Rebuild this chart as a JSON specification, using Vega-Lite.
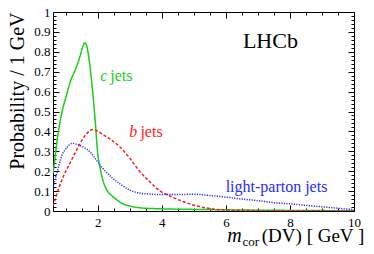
{
  "$schema": "https://vega.github.io/schema/vega-lite/v6.json",
  "width": 301,
  "height": 199,
  "autosize": {"type": "none"},
  "padding": {"left": 53, "top": 12, "right": 20, "bottom": 43},
  "background": "white",
  "config": {
    "font": "Liberation Serif",
    "view": {"stroke": "black", "strokeWidth": 1},
    "axis": {"grid": false, "domain": false, "title": null, "labelFont": "Liberation Serif", "labelFontSize": 13, "labelColor": "black", "tickColor": "black", "tickWidth": 1, "labelFlush": false, "labelOverlap": false},
    "text": {"font": "Liberation Serif"}
  },
  "resolve": {"axis": {"x": "independent", "y": "independent"}},
  "layer": [
    {
      "data": {"values": [
        {"jet": "c", "m": 0.6, "p": 0.19},
        {"jet": "c", "m": 0.65, "p": 0.25},
        {"jet": "c", "m": 0.72, "p": 0.345},
        {"jet": "c", "m": 0.8, "p": 0.43},
        {"jet": "c", "m": 0.9, "p": 0.51},
        {"jet": "c", "m": 1.0, "p": 0.57},
        {"jet": "c", "m": 1.14, "p": 0.65},
        {"jet": "c", "m": 1.3, "p": 0.71},
        {"jet": "c", "m": 1.43, "p": 0.77},
        {"jet": "c", "m": 1.52, "p": 0.82},
        {"jet": "c", "m": 1.59, "p": 0.845},
        {"jet": "c", "m": 1.65, "p": 0.83},
        {"jet": "c", "m": 1.72, "p": 0.77},
        {"jet": "c", "m": 1.78, "p": 0.69},
        {"jet": "c", "m": 1.85, "p": 0.58},
        {"jet": "c", "m": 1.92, "p": 0.45},
        {"jet": "c", "m": 1.99, "p": 0.3},
        {"jet": "c", "m": 2.08, "p": 0.21},
        {"jet": "c", "m": 2.18, "p": 0.143},
        {"jet": "c", "m": 2.3, "p": 0.1},
        {"jet": "c", "m": 2.45, "p": 0.075},
        {"jet": "c", "m": 2.6, "p": 0.055},
        {"jet": "c", "m": 2.8, "p": 0.035},
        {"jet": "c", "m": 3.0, "p": 0.025},
        {"jet": "c", "m": 3.4, "p": 0.015},
        {"jet": "c", "m": 4.0, "p": 0.011},
        {"jet": "c", "m": 5.0, "p": 0.008},
        {"jet": "c", "m": 6.0, "p": 0.006},
        {"jet": "c", "m": 7.0, "p": 0.004},
        {"jet": "c", "m": 8.0, "p": 0.003},
        {"jet": "c", "m": 9.0, "p": 0.002},
        {"jet": "c", "m": 10.0, "p": 0.001},
        {"jet": "b", "m": 0.6, "p": 0.025},
        {"jet": "b", "m": 0.67, "p": 0.06},
        {"jet": "b", "m": 0.77, "p": 0.11},
        {"jet": "b", "m": 0.93, "p": 0.176},
        {"jet": "b", "m": 1.14, "p": 0.244},
        {"jet": "b", "m": 1.35, "p": 0.31},
        {"jet": "b", "m": 1.56, "p": 0.37},
        {"jet": "b", "m": 1.72, "p": 0.4},
        {"jet": "b", "m": 1.85, "p": 0.41},
        {"jet": "b", "m": 2.0, "p": 0.4},
        {"jet": "b", "m": 2.2, "p": 0.38},
        {"jet": "b", "m": 2.4, "p": 0.36},
        {"jet": "b", "m": 2.7, "p": 0.32},
        {"jet": "b", "m": 3.0, "p": 0.265},
        {"jet": "b", "m": 3.3, "p": 0.2},
        {"jet": "b", "m": 3.6, "p": 0.15},
        {"jet": "b", "m": 3.95, "p": 0.1},
        {"jet": "b", "m": 4.3, "p": 0.072},
        {"jet": "b", "m": 4.7, "p": 0.045},
        {"jet": "b", "m": 5.1, "p": 0.025},
        {"jet": "b", "m": 5.5, "p": 0.012},
        {"jet": "b", "m": 6.0, "p": 0.005},
        {"jet": "b", "m": 7.0, "p": 0.002},
        {"jet": "b", "m": 8.0, "p": 0.001},
        {"jet": "b", "m": 10.0, "p": 0.0005},
        {"jet": "light", "m": 0.6, "p": 0.12},
        {"jet": "light", "m": 0.72, "p": 0.19},
        {"jet": "light", "m": 0.88, "p": 0.28},
        {"jet": "light", "m": 1.04, "p": 0.32},
        {"jet": "light", "m": 1.2, "p": 0.34},
        {"jet": "light", "m": 1.35, "p": 0.335},
        {"jet": "light", "m": 1.56, "p": 0.32},
        {"jet": "light", "m": 1.77, "p": 0.295},
        {"jet": "light", "m": 1.98, "p": 0.25},
        {"jet": "light", "m": 2.18, "p": 0.21},
        {"jet": "light", "m": 2.44, "p": 0.168},
        {"jet": "light", "m": 2.7, "p": 0.135},
        {"jet": "light", "m": 3.0, "p": 0.105},
        {"jet": "light", "m": 3.3, "p": 0.09},
        {"jet": "light", "m": 3.6, "p": 0.085},
        {"jet": "light", "m": 4.0, "p": 0.083},
        {"jet": "light", "m": 4.5, "p": 0.083},
        {"jet": "light", "m": 5.0, "p": 0.084},
        {"jet": "light", "m": 5.5, "p": 0.078},
        {"jet": "light", "m": 6.0, "p": 0.07},
        {"jet": "light", "m": 6.5, "p": 0.06},
        {"jet": "light", "m": 7.0, "p": 0.052},
        {"jet": "light", "m": 7.5, "p": 0.042},
        {"jet": "light", "m": 8.0, "p": 0.036},
        {"jet": "light", "m": 8.5, "p": 0.028},
        {"jet": "light", "m": 9.0, "p": 0.021},
        {"jet": "light", "m": 9.5, "p": 0.014},
        {"jet": "light", "m": 10.0, "p": 0.006}
      ]},
      "mark": {"type": "line", "strokeWidth": 1.5, "interpolate": "monotone", "clip": true},
      "encoding": {
        "x": {"field": "m", "type": "quantitative", "scale": {"domain": [0.6, 10], "nice": false, "zero": false},
          "axis": {"orient": "bottom", "values": [2, 4, 6, 8, 10], "format": "~r", "ticks": false, "labelPadding": 5, "labelFont": "Liberation Serif"}},
        "y": {"field": "p", "type": "quantitative", "scale": {"domain": [0, 1], "nice": false, "zero": false},
          "axis": {"orient": "left", "values": [0, 0.1, 0.2, 0.3, 0.4, 0.5, 0.6, 0.7, 0.8, 0.9, 1], "format": "~r", "ticks": false, "labelPadding": 3, "labelFont": "Liberation Serif",
            "title": "Probability / 1 GeV", "titleFont": "Liberation Serif", "titleFontSize": 20, "titleFontWeight": "normal", "titleColor": "black", "titleAnchor": "end", "titlePadding": 6}},
        "color": {"field": "jet", "type": "nominal", "scale": {"domain": ["c", "b", "light"], "range": ["#1ccc1c", "#ff1a1a", "#2a2aff"]}, "legend": null},
        "strokeDash": {"field": "jet", "type": "nominal", "scale": {"domain": ["c", "b", "light"], "range": [[1, 0], [3, 2], [1.2, 1.3]]}, "legend": null},
        "detail": {"field": "jet"}
      }
    },
    {
      "data": {"values": [{"t": "LHCb"}]},
      "mark": {"type": "text", "fontSize": 22, "align": "center", "baseline": "alphabetic", "color": "black"},
      "encoding": {
        "text": {"field": "t"},
        "x": {"datum": 7.39, "axis": {"orient": "top", "values": [2, 4, 6, 8, 10], "labels": false, "tickSize": -6}},
        "y": {"datum": 0.82, "axis": {"orient": "right", "values": [0, 0.1, 0.2, 0.3, 0.4, 0.5, 0.6, 0.7, 0.8, 0.9, 1], "labels": false, "tickSize": -6}}
      }
    },
    {
      "data": {"values": [{"t": "c"}]},
      "mark": {"type": "text", "fontSize": 16, "align": "right", "baseline": "alphabetic", "fontStyle": "italic", "color": "#1ccc1c"},
      "encoding": {
        "text": {"field": "t"},
        "x": {"datum": 2.3, "axis": {"orient": "bottom", "values": [1, 1.5, 2.5, 3, 3.5, 4.5, 5, 5.5, 6.5, 7, 7.5, 8.5, 9, 9.5], "labels": false, "tickSize": -3}},
        "y": {"datum": 0.652, "axis": {"orient": "left", "values": [0.02, 0.04, 0.06, 0.08, 0.12, 0.14, 0.16, 0.18, 0.22, 0.24, 0.26, 0.28, 0.32, 0.34, 0.36, 0.38, 0.42, 0.44, 0.46, 0.48, 0.52, 0.54, 0.56, 0.58, 0.62, 0.64, 0.66, 0.68, 0.72, 0.74, 0.76, 0.78, 0.82, 0.84, 0.86, 0.88, 0.92, 0.94, 0.96, 0.98], "labels": false, "tickSize": -3}}
      }
    },
    {
      "data": {"values": [{"t": "jets"}]},
      "mark": {"type": "text", "fontSize": 16, "align": "left", "baseline": "alphabetic", "color": "#1ccc1c"},
      "encoding": {
        "text": {"field": "t"},
        "x": {"datum": 2.39, "axis": {"orient": "top", "values": [1, 1.5, 2.5, 3, 3.5, 4.5, 5, 5.5, 6.5, 7, 7.5, 8.5, 9, 9.5], "labels": false, "tickSize": -3}},
        "y": {"datum": 0.652, "axis": {"orient": "right", "values": [0.02, 0.04, 0.06, 0.08, 0.12, 0.14, 0.16, 0.18, 0.22, 0.24, 0.26, 0.28, 0.32, 0.34, 0.36, 0.38, 0.42, 0.44, 0.46, 0.48, 0.52, 0.54, 0.56, 0.58, 0.62, 0.64, 0.66, 0.68, 0.72, 0.74, 0.76, 0.78, 0.82, 0.84, 0.86, 0.88, 0.92, 0.94, 0.96, 0.98], "labels": false, "tickSize": -3}}
      }
    },
    {
      "data": {"values": [{"t": "b"}]},
      "mark": {"type": "text", "fontSize": 16, "align": "right", "baseline": "alphabetic", "fontStyle": "italic", "color": "#ff1a1a"},
      "encoding": {
        "text": {"field": "t"},
        "x": {"datum": 3.23, "axis": {"orient": "bottom", "values": [2, 4, 6, 8, 10], "labels": false, "tickSize": -6}},
        "y": {"datum": 0.371, "axis": {"orient": "left", "values": [0, 0.1, 0.2, 0.3, 0.4, 0.5, 0.6, 0.7, 0.8, 0.9, 1], "labels": false, "tickSize": -6}}
      }
    },
    {
      "data": {"values": [{"t": "jets"}]},
      "mark": {"type": "text", "fontSize": 16, "align": "left", "baseline": "alphabetic", "color": "#ff1a1a"},
      "encoding": {
        "text": {"field": "t"},
        "x": {"datum": 3.33, "axis": null},
        "y": {"datum": 0.371, "axis": null}
      }
    },
    {
      "data": {"values": [{"t": "light-parton jets"}]},
      "mark": {"type": "text", "fontSize": 16, "align": "center", "baseline": "alphabetic", "color": "#2a2aff"},
      "encoding": {
        "text": {"field": "t"},
        "x": {"datum": 7.58, "axis": null},
        "y": {"datum": 0.094, "axis": null}
      }
    },
    {
      "data": {"values": [{"t": "m"}]},
      "mark": {"type": "text", "fontSize": 20, "align": "left", "baseline": "alphabetic", "fontStyle": "italic", "color": "black"},
      "encoding": {
        "text": {"field": "t"},
        "x": {"datum": 6.04, "axis": null},
        "y": {"datum": -0.155, "axis": null}
      }
    },
    {
      "data": {"values": [{"t": "cor"}]},
      "mark": {"type": "text", "fontSize": 13, "align": "left", "baseline": "alphabetic", "color": "black"},
      "encoding": {
        "text": {"field": "t"},
        "x": {"datum": 6.52, "axis": null},
        "y": {"datum": -0.178, "axis": null}
      }
    },
    {
      "data": {"values": [{"t": "(DV) [ GeV ]"}]},
      "mark": {"type": "text", "fontSize": 19, "align": "left", "baseline": "alphabetic", "color": "black"},
      "encoding": {
        "text": {"field": "t"},
        "x": {"datum": 7.12, "axis": null},
        "y": {"datum": -0.155, "axis": null}
      }
    }
  ]
}
